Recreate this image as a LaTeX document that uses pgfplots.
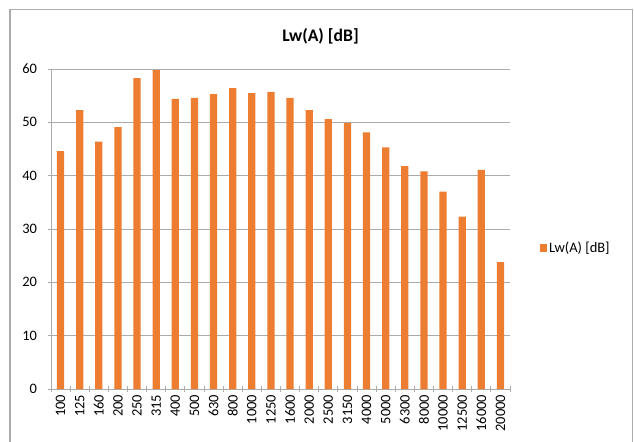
\documentclass[border=0pt]{standalone}
\usepackage{pgfplots}
\pgfplotsset{compat=1.18}
\usepackage{fontspec}
\setmainfont{Carlito}
\definecolor{barorange}{HTML}{ED7D31}
\definecolor{gridgray}{HTML}{ABABAB}
\definecolor{framegray}{HTML}{ABABAB}
\begin{document}
\begin{tikzpicture}
\path[use as bounding box] (0,0) rectangle (634bp,442bp);
\draw[framegray, line width=1.2bp] (10bp,-2bp) -- (10bp,432.5bp) -- (632.5bp,432.5bp) -- (632.5bp,-2bp);
\node[font=\fontsize{17.7}{20}\selectfont\bfseries] at (320.5bp,406bp) {Lw(A) [dB]};
\begin{axis}[
  at={(51bp,53bp)}, anchor=south west,
  scale only axis, width=459bp, height=320bp,
  xmin=-0.5, xmax=23.5, ymin=0, ymax=60,
  ytick={0,10,...,60},
  xtick={0,...,23},
  xticklabels={100,125,160,200,250,315,400,500,630,800,1000,1250,1600,2000,2500,3150,4000,5000,6300,8000,10000,12500,16000,20000},
  minor xtick={-0.5,0.5,...,23.5},
  major x tick style={draw=none},
  tick align=outside, tick pos=left,
  major tick length=5bp, minor tick length=5bp,
  every tick/.style={gridgray, line width=0.9bp},
  axis x line=bottom, axis y line=left,
  axis line style={-, gridgray, line width=0.9bp},
  ymajorgrids, major grid style={gridgray, line width=0.9bp},
  xticklabel style={rotate=90, anchor=east, font=\fontsize{14.5}{16}\selectfont},
  yticklabel style={font=\fontsize{14.5}{16}\selectfont, xshift=-8bp},
  /pgf/number format/assume math mode=true,
  tick label style={black},
  legend style={at={(1.064,0.44)}, anchor=west, draw=none, fill=none,
    font=\fontsize{14.5}{16}\selectfont, inner sep=0pt},
  legend image code/.code={\fill[barorange] (0bp,-3.75bp) rectangle (7.5bp,3.75bp);},
  clip=false,
]
\addplot[ybar, bar width=7.3bp, fill=barorange, draw=none] coordinates {
(0,44.6) (1,52.3) (2,46.4) (3,49.1) (4,58.3) (5,59.8) (6,54.4) (7,54.6)
(8,55.3) (9,56.4) (10,55.5) (11,55.7) (12,54.6) (13,52.3) (14,50.6)
(15,49.9) (16,48.1) (17,45.3) (18,41.8) (19,40.8) (20,37.0) (21,32.3)
(22,41.1) (23,23.8)
};
\addlegendentry{Lw(A) [dB]}
\end{axis}
\end{tikzpicture}
\end{document}
